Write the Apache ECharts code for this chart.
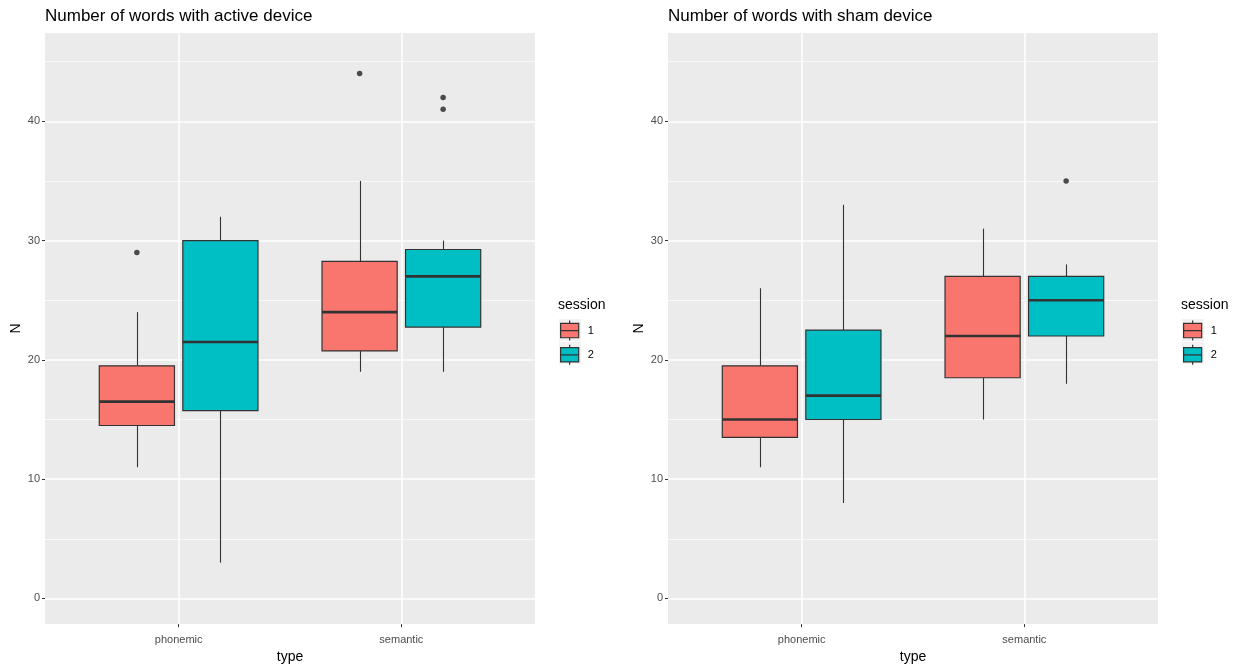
<!DOCTYPE html>
<html>
<head>
<meta charset="utf-8">
<script src="https://cdn.jsdelivr.net/npm/echarts@6/dist/echarts.min.js"></script>
<style>
  html, body { margin: 0; padding: 0; background: #ffffff; }
  #chart { width: 1241px; height: 669px; }
</style>
</head>
<body>
<div id="chart"></div>
<script>
// Word-count box plots for the two fluency tasks, by session and device.
const categories = ['phonemic', 'semantic'];
const sessions = ['1', '2'];
const panelTitles = ['Number of words with active device', 'Number of words with sham device'];

// Five-number summaries per category: [lower whisker, Q1, median, Q3, upper whisker]
const activeSession1 = [[11, 14.5, 16.5, 19.5, 24], [19, 20.75, 24, 28.25, 35]];
const activeSession2 = [[3, 15.75, 21.5, 30, 32], [19, 22.75, 27, 29.25, 30]];
const shamSession1 = [[11, 13.5, 15, 19.5, 26], [15, 18.5, 22, 27, 31]];
const shamSession2 = [[8, 15, 17, 22.5, 33], [18, 22, 25, 27, 28]];

// Outlying observations per category
const activeOutliers1 = [[29], [44]];
const activeOutliers2 = [[], [41, 42]];
const shamOutliers1 = [[], []];
const shamOutliers2 = [[], [35]];

const yTicks = [0, 10, 20, 30, 40];
const yMinorTicks = [5, 15, 25, 35, 45];

const FILLS = ['#F8766D', '#00BFC4'];
const INK = '#333333';
const DODGE = 0.375;        // distance between dodged box centres (x units)
const BOX_HALF = 0.16875;   // half box width (x units)

const panels = [
  { stats: [activeSession1, activeSession2], outliers: [activeOutliers1, activeOutliers2] },
  { stats: [shamSession1, shamSession2], outliers: [shamOutliers1, shamOutliers2] }
];

const gridLeft = [45, 668];
const GRID_TOP = 33, GRID_W = 490, GRID_H = 592;
const Y_MIN = -2.15, Y_MAX = 47.4;

function centreOf(catIdx, sesIdx) {
  return catIdx + 1 + (sesIdx - (sessions.length - 1) / 2) * DODGE;
}

function renderBox(params, api) {
  const x = api.value(0);
  const lo = api.value(1), q1 = api.value(2), med = api.value(3), q3 = api.value(4), hi = api.value(5);
  const tl = api.coord([x - BOX_HALF, q3]);
  const br = api.coord([x + BOX_HALF, q1]);
  const c = api.coord([x, med]);
  const pHi = api.coord([x, hi]);
  const pLo = api.coord([x, lo]);
  const cx = Math.round(c[0]) + 0.5;
  const fill = api.visual('color');
  return {
    type: 'group',
    children: [
      { type: 'line', shape: { x1: cx, y1: pHi[1], x2: cx, y2: tl[1] }, style: { stroke: INK, lineWidth: 1.1 } },
      { type: 'line', shape: { x1: cx, y1: br[1], x2: cx, y2: pLo[1] }, style: { stroke: INK, lineWidth: 1.1 } },
      { type: 'rect', shape: { x: tl[0], y: tl[1], width: br[0] - tl[0], height: br[1] - tl[1] },
        style: { fill: fill, stroke: INK, lineWidth: 1.2 } },
      { type: 'line', shape: { x1: tl[0], y1: c[1], x2: br[0], y2: c[1] }, style: { stroke: INK, lineWidth: 2.6 } }
    ]
  };
}

const axisLabelColor = '#4D4D4D';
const grids = [], xAxes = [], yAxes = [], series = [], titles = [], legends = [], graphics = [];
const keyIcon = 'path://M1 3 H20 V18 H1 Z M1 10.5 H20 M10.5 0 V3 M10.5 18 V21';

panels.forEach((panel, p) => {
  grids.push({
    left: gridLeft[p], top: GRID_TOP, width: GRID_W, height: GRID_H,
    show: true, backgroundColor: '#EBEBEB', borderWidth: 0
  });
  xAxes.push({
    type: 'value', gridIndex: p, min: 0.4, max: 2.6,
    name: 'type', nameLocation: 'middle', nameGap: 25,
    nameTextStyle: { color: '#000000', fontSize: 14, fontFamily: 'Liberation Sans' },
    axisLine: { show: false, onZero: false },
    axisTick: { show: true, length: 3, lineStyle: { color: INK, width: 1 }, customValues: [1, 2] },
    axisLabel: {
      customValues: [1, 2], margin: 10, color: axisLabelColor, fontSize: 11, fontFamily: 'Liberation Sans',
      formatter: v => categories[Math.round(v) - 1]
    },
    splitLine: { show: true, lineStyle: { color: '#FFFFFF', width: 1.5 } }
  });
  yAxes.push({
    type: 'value', gridIndex: p, min: Y_MIN, max: Y_MAX,
    name: 'N', nameLocation: 'middle', nameGap: 22, nameRotate: 90,
    nameTextStyle: { color: '#000000', fontSize: 14, fontFamily: 'Liberation Sans' },
    axisLine: { show: false, onZero: false },
    axisTick: { show: true, length: 3, lineStyle: { color: INK, width: 1 }, customValues: yTicks },
    axisLabel: { customValues: yTicks, margin: 5, color: axisLabelColor, fontSize: 11, fontFamily: 'Liberation Sans' },
    splitLine: { show: true, lineStyle: { color: '#FFFFFF', width: 1.5 } }
  });
  // minor grid lines
  yAxes.push({
    type: 'value', gridIndex: p, min: Y_MIN, max: Y_MAX, position: 'left',
    axisLine: { show: false, onZero: false },
    axisTick: { show: false, customValues: yMinorTicks },
    axisLabel: { show: false, customValues: yMinorTicks },
    splitLine: { show: true, lineStyle: { color: '#FFFFFF', width: 0.7 } },
    z: 0
  });

  sessions.forEach((s, si) => {
    const boxData = panel.stats[si].map((st, ci) => [centreOf(ci, si)].concat(st));
    series.push({
      type: 'custom', name: s, xAxisIndex: p, yAxisIndex: p * 2,
      renderItem: renderBox,
      itemStyle: { color: FILLS[si], borderColor: INK, borderWidth: 1 },
      encode: { x: 0, y: [1, 2, 3, 4, 5] },
      data: boxData, z: 3
    });
    const outData = [];
    panel.outliers[si].forEach((vals, ci) => vals.forEach(v => outData.push([centreOf(ci, si), v])));
    series.push({
      type: 'scatter', name: s + ' outliers', xAxisIndex: p, yAxisIndex: p * 2,
      symbol: 'circle', symbolSize: 5.5,
      itemStyle: { color: '#222222' },
      data: outData, z: 4, silent: true
    });
  });

  titles.push({
    text: panelTitles[p], left: gridLeft[p], top: 8, padding: 0,
    textStyle: { color: '#000000', fontSize: 17, fontWeight: 'normal', fontFamily: 'Liberation Sans' }
  });
  const legendLeft = gridLeft[p] + GRID_W + 24;
  titles.push({
    text: 'session', left: legendLeft - 1, top: 298, padding: 0,
    textStyle: { color: '#000000', fontSize: 14, fontWeight: 'normal', fontFamily: 'Liberation Sans' }
  });
  // key backgrounds
  sessions.forEach((s, si) => {
    graphics.push({
      type: 'rect', left: legendLeft, top: 319 + si * 23, z: -1,
      shape: { width: 22, height: 22 }, style: { fill: '#F2F2F2' }
    });
  });
  legends.push({
    orient: 'vertical', left: legendLeft + 1, top: 320, padding: 0,
    itemWidth: 20, itemHeight: 20, itemGap: 3,
    selectedMode: false,
    textStyle: { color: '#000000', fontSize: 11, fontFamily: 'Liberation Sans', padding: [2, 0, 0, 3] },
    data: sessions.map((s, si) => ({
      name: s, icon: keyIcon,
      itemStyle: { color: FILLS[si], borderColor: INK, borderWidth: 1.2 }
    }))
  });
});

const chart = echarts.init(document.getElementById('chart'), null, { renderer: 'canvas' });
chart.setOption({
  backgroundColor: '#FFFFFF',
  animation: false,
  title: titles,
  legend: legends,
  grid: grids,
  xAxis: xAxes,
  yAxis: yAxes,
  series: series,
  graphic: graphics
});
</script>
</body>
</html>
